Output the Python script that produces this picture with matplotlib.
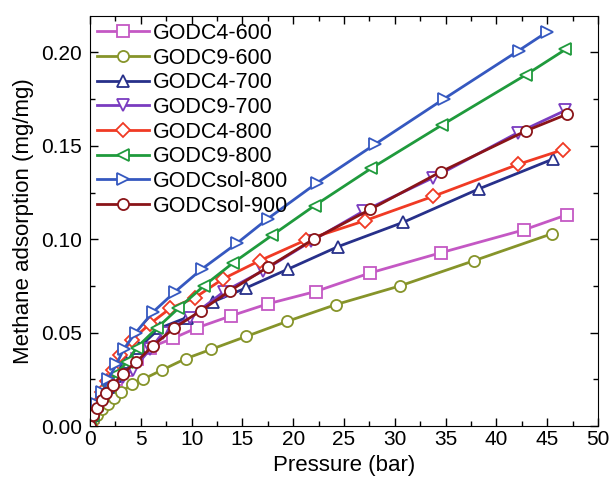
import matplotlib.pyplot as plt
from matplotlib.ticker import MultipleLocator

plt.rcParams['font.family'] = ['Liberation Sans', 'DejaVu Sans']

# === Data ===
labels = ['GODC4-600', 'GODC9-600', 'GODC4-700', 'GODC9-700',
          'GODC4-800', 'GODC9-800', 'GODCsol-800', 'GODCsol-900']

p_c4_600 = [0, 0.3, 0.7, 1.2, 1.8, 2.6, 3.5, 4.6, 5.9, 8.2, 10.5, 13.9, 17.5, 22.2, 27.6, 34.5, 42.7, 46.9]
q_c4_600 = [0, 0.005, 0.009, 0.014, 0.019, 0.025, 0.030, 0.036, 0.042, 0.047, 0.0525, 0.059, 0.0654, 0.072, 0.082, 0.0927, 0.105, 0.113]

p_c9_600 = [0, 0.3, 0.7, 1.2, 1.8, 2.4, 3.1, 4.1, 5.2, 7.1, 9.4, 11.9, 15.4, 19.4, 24.2, 30.5, 37.8, 45.5]
q_c9_600 = [0, 0.003, 0.006, 0.009, 0.012, 0.015, 0.018, 0.0225, 0.025, 0.030, 0.036, 0.041, 0.048, 0.056, 0.065, 0.075, 0.0885, 0.103]

p_c4_700 = [0, 0.3, 0.7, 1.2, 1.8, 2.5, 3.5, 4.8, 6.9, 9.5, 12.1, 15.4, 19.5, 24.4, 30.8, 38.3, 45.6]
q_c4_700 = [0, 0.006, 0.011, 0.016, 0.021, 0.027, 0.034, 0.042, 0.0525, 0.058, 0.0665, 0.074, 0.084, 0.096, 0.109, 0.127, 0.143]

p_c9_700 = [0, 0.3, 0.7, 1.2, 1.8, 2.6, 3.2, 4.2, 5.9, 7.2, 9.8, 13.2, 17.0, 21.8, 26.9, 33.8, 42.1, 46.8]
q_c9_700 = [0, 0.005, 0.009, 0.014, 0.019, 0.024, 0.026, 0.030, 0.041, 0.050, 0.058, 0.072, 0.083, 0.099, 0.115, 0.133, 0.157, 0.169]

p_c4_800 = [0, 0.3, 0.7, 1.2, 1.7, 2.3, 3.0, 4.1, 5.9, 7.9, 10.3, 13.1, 16.7, 21.3, 27.1, 33.8, 42.1, 46.6]
q_c4_800 = [0, 0.007, 0.012, 0.018, 0.024, 0.030, 0.038, 0.046, 0.0547, 0.063, 0.0686, 0.0788, 0.0885, 0.0997, 0.110, 0.123, 0.140, 0.148]

p_c9_800 = [0, 0.3, 0.7, 1.2, 1.8, 2.6, 3.6, 4.6, 6.6, 8.7, 11.2, 14.1, 17.9, 22.1, 27.7, 34.6, 42.9, 46.8]
q_c9_800 = [0, 0.006, 0.011, 0.016, 0.022, 0.028, 0.034, 0.042, 0.0525, 0.063, 0.075, 0.0874, 0.102, 0.118, 0.138, 0.161, 0.188, 0.2016]

p_sol_800 = [0, 0.3, 0.7, 1.2, 1.8, 2.6, 3.3, 4.5, 6.2, 8.4, 11.0, 14.5, 17.5, 22.3, 28.1, 34.8, 42.2, 45.0]
q_sol_800 = [0, 0.007, 0.012, 0.018, 0.025, 0.033, 0.041, 0.050, 0.061, 0.072, 0.084, 0.098, 0.111, 0.130, 0.151, 0.175, 0.201, 0.211]

p_sol_900 = [0, 0.3, 0.7, 1.2, 1.6, 2.3, 3.2, 4.5, 6.2, 8.3, 10.9, 13.8, 17.5, 22.0, 27.6, 34.5, 42.9, 46.9]
q_sol_900 = [0, 0.006, 0.0096, 0.014, 0.0177, 0.022, 0.028, 0.034, 0.043, 0.0525, 0.0617, 0.0725, 0.085, 0.100, 0.116, 0.136, 0.158, 0.1668]

series = [
    (p_c4_600, q_c4_600, '#c458c4', 's'),
    (p_c9_600, q_c9_600, '#86942a', 'o'),
    (p_c4_700, q_c4_700, '#27308a', '^'),
    (p_c9_700, q_c9_700, '#7a3cc0', 'v'),
    (p_c4_800, q_c4_800, '#f03a24', 'D'),
    (p_c9_800, q_c9_800, '#1f9a3c', '<'),
    (p_sol_800, q_sol_800, '#3558c0', '>'),
    (p_sol_900, q_sol_900, '#8a1418', 'o'),
]

# === Plot ===
fig = plt.figure(figsize=(6.09, 4.84), dpi=100)
ax = fig.add_axes([90 / 609, 58 / 484, 508 / 609, 410 / 484])

for (p, q, c, m), lab in zip(series, labels):
    ms = 7 if m == 'D' else 8
    ax.plot(p, q, color=c, marker=m, lw=2, ms=ms, mfc='white', mec=c,
            mew=1.3, label=lab)

ax.set_xlim(0, 50)
ax.set_ylim(0, 0.2195)
ax.xaxis.set_major_locator(MultipleLocator(5))
ax.xaxis.set_minor_locator(MultipleLocator(2.5))
ax.yaxis.set_major_locator(MultipleLocator(0.05))
ax.yaxis.set_minor_locator(MultipleLocator(0.025))
ax.yaxis.set_major_formatter(plt.FormatStrFormatter('%.2f'))
ax.tick_params(which='both', direction='in', top=True, right=True, labelsize=15)
ax.tick_params(which='major', length=6, width=1, pad=6)
ax.tick_params(which='minor', length=3.5, width=1)
ax.tick_params(axis='x', pad=3)

ax.set_xlabel('Pressure (bar)', fontsize=16, labelpad=4)
ax.set_ylabel('Methane adsorption (mg/mg)', fontsize=16, labelpad=5)

ax.legend(loc='upper left', frameon=False, fontsize=15.5, handlelength=2.4,
          handletextpad=0.2, labelspacing=0.17, borderaxespad=0.22,
          borderpad=0.1)

fig.savefig('out.png', dpi=100)
